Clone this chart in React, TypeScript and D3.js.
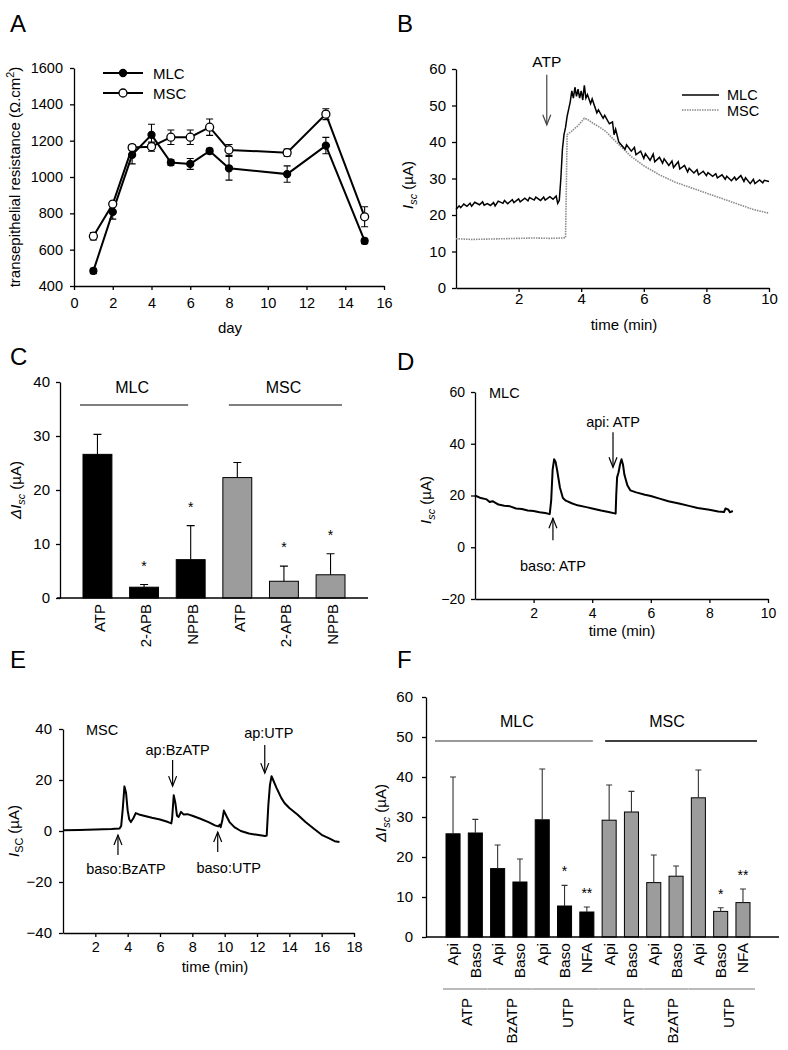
import React, { useEffect, useRef } from 'react';
import * as d3 from 'd3';

const FONT = '"Liberation Sans", Arial, Helvetica, sans-serif';

// ---- A: transepithelial resistance (Ohm.cm2) per day
const terDays = [1, 2, 3, 4, 5, 6, 7, 8, 11, 13, 15];
const terMlc = [483, 808, 1122, 1232, 1080, 1072, 1143, 1048, 1016, 1173, 648];
const terMlcErr = [15, 40, 50, 58, 15, 30, 15, 65, 45, 45, 15];
const terMsc = [674, 851, 1162, 1167, 1219, 1219, 1274, 1149, 1134, 1346, 781];
const terMscErr = [20, 10, 15, 25, 40, 40, 45, 30, 20, 30, 55];
const terTicksY = [400, 600, 800, 1000, 1200, 1400, 1600];
const terTicksX = [0, 2, 4, 6, 8, 10, 12, 14, 16];

// ---- B: Isc traces after ATP, [time min, Isc uA]
const bMlc = [
  [0, 21.5], [0.1, 22.5], [0.15, 22], [0.25, 23], [0.35, 22.4], [0.45, 23.2], [0.5, 22.4], [0.6, 23.5],
  [0.75, 22.8], [0.85, 23.6], [0.9, 22.7], [1.0, 23.1], [1.1, 22.6], [1.2, 23.4], [1.25, 22.5], [1.35, 23.8],
  [1.5, 23.2], [1.55, 24], [1.65, 23.1], [1.8, 24.2], [1.85, 23.4], [2.0, 24.4], [2.05, 23.6], [2.2, 24.6],
  [2.3, 23.9], [2.35, 24.8], [2.5, 24.1], [2.55, 24.9], [2.7, 24], [2.8, 24.9], [2.85, 24.1], [3.0, 25],
  [3.1, 24.3], [3.2, 25.2], [3.25, 23.2], [3.3, 24], [3.35, 30], [3.4, 38], [3.45, 42], [3.5, 44], [3.55, 47],
  [3.6, 49], [3.65, 51], [3.7, 54], [3.75, 52], [3.8, 55], [3.85, 52.5], [3.9, 54.5], [3.95, 52],
  [4.0, 54], [4.05, 51.5], [4.1, 55.5], [4.15, 52], [4.2, 53], [4.3, 50.5], [4.35, 51.8], [4.5, 48],
  [4.55, 48.8], [4.7, 46.5], [4.75, 47.3], [4.9, 45], [5.0, 45.5], [5.05, 42], [5.1, 43.5], [5.2, 40],
  [5.25, 39.5], [5.4, 38], [5.45, 39.2], [5.6, 37.5], [5.7, 38.5], [5.75, 36.5], [5.9, 37.5], [6.0, 35.5],
  [6.05, 36.8], [6.2, 35], [6.3, 36.7], [6.35, 34.6], [6.5, 35.8], [6.6, 34.2], [6.65, 35.4], [6.8, 33.6],
  [6.9, 34.8], [6.95, 33], [7.1, 34.6], [7.15, 32.6], [7.3, 33.6], [7.4, 31.8], [7.45, 32.8], [7.6, 31.5],
  [7.7, 32.4], [7.75, 31], [7.9, 32], [8.0, 30.8], [8.05, 31.6], [8.2, 30.6], [8.3, 31.3], [8.35, 30.2],
  [8.5, 31], [8.6, 29.8], [8.65, 30.6], [8.8, 29.4], [8.9, 30.4], [8.95, 29.6], [9.1, 30.8], [9.2, 29.2],
  [9.25, 30.2], [9.4, 28.6], [9.5, 29.8], [9.55, 28.6], [9.7, 29.6], [9.8, 28.8], [9.85, 29.5], [10.0, 29.2],
];
const bMsc = [
  [0, 13.5], [0.5, 13.3], [1, 13.4], [1.5, 13.5], [2, 13.6], [2.5, 13.7], [3, 13.6], [3.4, 13.7],
  [3.5, 13.8], [3.52, 25], [3.55, 42], [3.7, 43], [3.9, 44.5], [4.1, 46.5], [4.2, 46.2], [4.4, 45],
  [4.6, 44], [4.8, 42.8], [5.0, 41], [5.3, 38.5], [5.6, 36], [6.0, 33.5], [6.5, 31], [7.0, 29],
  [7.5, 27.5], [8.0, 26], [8.5, 24.5], [9.0, 23], [9.5, 21.5], [10, 20.5],
];
const bTicksY = [0, 10, 20, 30, 40, 50, 60];
const bTicksX = [2, 4, 6, 8, 10];

// ---- C: delta Isc with inhibitors
const cLabels = ['ATP', '2-APB', 'NPPB', 'ATP', '2-APB', 'NPPB'];
const cCells = ['MLC', 'MLC', 'MLC', 'MSC', 'MSC', 'MSC'];
const cValues = [26.6, 2.0, 7.1, 22.3, 3.1, 4.3];
const cErrors = [3.7, 0.5, 6.3, 2.8, 2.8, 3.9];
const cSig = ['', '*', '*', '', '*', '*'];
const cTicksY = [0, 10, 20, 30, 40];

// ---- D: MLC trace, baso then api ATP
const dMlc = [
  [0, 20], [0.2, 19], [0.4, 18.5], [0.5, 17.5], [0.6, 17.8], [0.8, 16.5], [1.0, 16], [1.2, 15.8],
  [1.4, 15], [1.6, 14.8], [1.8, 14.2], [2.0, 14], [2.2, 13.5], [2.4, 13.2], [2.55, 12.8], [2.6, 18],
  [2.65, 30], [2.7, 34], [2.75, 33], [2.8, 30], [2.9, 23], [3.0, 19], [3.1, 18], [3.3, 17],
  [3.5, 16.2], [3.8, 15.5], [4.0, 15], [4.3, 14.2], [4.6, 13.5], [4.8, 13], [4.82, 20], [4.85, 27],
  [4.9, 29], [4.95, 32], [5.0, 34], [5.05, 32], [5.1, 28], [5.2, 24], [5.3, 22], [5.5, 21.2],
  [5.8, 20.3], [6.0, 19.8], [6.3, 18.8], [6.6, 17.8], [7.0, 16.8], [7.3, 16], [7.6, 15.2], [8.0, 14.5],
  [8.3, 13.8], [8.5, 13.6], [8.55, 15], [8.65, 14.5], [8.7, 13.5], [8.8, 14],
];
const dArrows = [
  { t: 2.66, tail: 2.7, tip: 11.2, label: 'baso: ATP', dx: 0, labelY: -9 },
  { t: 4.71, tail: 44.4, tip: 30.9, label: 'api: ATP', dx: 0, labelY: 46.5 },
];
const dTicksY = [-20, 0, 20, 40, 60];
const dTicksX = [2, 4, 6, 8, 10];

// ---- E: MSC trace with BzATP / UTP
const eMsc = [
  [0, 0.3], [1, 0.4], [2, 0.6], [3, 0.8], [3.5, 1], [3.6, 2], [3.7, 9], [3.8, 17.5], [3.9, 15],
  [4.0, 8], [4.1, 4.5], [4.2, 3.5], [4.35, 5], [4.5, 7], [4.7, 6.5], [5.0, 6], [5.5, 5.2], [6.0, 4.5],
  [6.5, 3.5], [6.7, 3], [6.75, 5], [6.85, 14], [6.95, 11], [7.05, 6], [7.15, 5.5], [7.3, 7.5],
  [7.45, 6.5], [7.7, 6.6], [8.0, 6], [8.5, 4.8], [9.0, 3.5], [9.4, 2.2], [9.6, 1.8], [9.7, 2.5],
  [9.75, 1.5], [9.85, 4], [9.95, 8], [10.1, 6], [10.3, 3.5], [10.6, 1.5], [11, 0], [11.5, -1],
  [12, -1.5], [12.5, -2], [12.6, -1.8], [12.7, 10], [12.8, 18], [12.9, 21.5], [13.0, 20], [13.2, 17],
  [13.5, 13], [13.7, 11], [14.0, 9], [14.5, 6.5], [15.0, 3.5], [15.5, 1], [16.0, -1.5], [16.5, -3],
  [16.8, -4], [17.1, -4.3],
];
const eArrows = [
  { t: 3.4, tail: -9.4, tip: -1.6, label: 'baso:BzATP', dx: 8, labelY: -17 },
  { t: 6.78, tail: 27.8, tip: 17.6, label: 'ap:BzATP', dx: 5, labelY: 29.8 },
  { t: 9.57, tail: -8.2, tip: -0.4, label: 'baso:UTP', dx: 11, labelY: -16.5 },
  { t: 12.48, tail: 33.7, tip: 22.7, label: 'ap:UTP', dx: 4, labelY: 36.5 },
];
const eTicksY = [-40, -20, 0, 20, 40];
const eTicksX = [2, 4, 6, 8, 10, 12, 14, 16, 18];

// ---- F: delta Isc api / baso agonists
const fLabels = ['Api', 'Baso', 'Api', 'Baso', 'Api', 'Baso', 'NFA', 'Api', 'Baso', 'Api', 'Baso', 'Api', 'Baso', 'NFA'];
const fAgonists = ['ATP', 'ATP', 'BzATP', 'BzATP', 'UTP', 'UTP', 'UTP', 'ATP', 'ATP', 'BzATP', 'BzATP', 'UTP', 'UTP', 'UTP'];
const fCells = ['MLC', 'MLC', 'MLC', 'MLC', 'MLC', 'MLC', 'MLC', 'MSC', 'MSC', 'MSC', 'MSC', 'MSC', 'MSC', 'MSC'];
const fValues = [25.8, 26.0, 17.1, 13.75, 29.3, 7.75, 6.25, 29.2, 31.25, 13.6, 15.2, 34.8, 6.4, 8.6];
const fErrors = [14.2, 3.4, 5.9, 5.75, 12.7, 5.15, 1.25, 8.8, 5.15, 6.9, 2.55, 6.95, 0.9, 3.4];
const fSig = ['', '', '', '', '', '*', '**', '', '', '', '', '', '*', '**'];
const fTicksY = [0, 10, 20, 30, 40, 50, 60];

const isc = [{ t: 'I', italic: true }, { t: 'sc', italic: true, sub: true }, { t: ' (µA)' }];
const dIsc = [{ t: 'ΔI', italic: true }, { t: 'sc', italic: true, sub: true }, { t: ' (µA)' }];
const iSC = [{ t: 'I', italic: true }, { t: 'SC', sub: true }, { t: ' (µA)' }];

function rich(sel, parts) {
  let shift = 0;
  parts.forEach((p) => {
    const ts = sel.append('tspan').text(p.t);
    const target = p.sub ? 4 : p.sup ? -6 : 0;
    if (target !== shift) {
      ts.attr('dy', target - shift);
      shift = target;
    }
    if (p.sub || p.sup) ts.attr('font-size', '0.72em');
    if (p.italic) ts.attr('font-style', 'italic');
  });
}

function label(svg, x, y, text, fs = 15, anchor = 'middle') {
  return svg.append('text').attr('x', x).attr('y', y).attr('font-size', fs)
    .attr('text-anchor', anchor).attr('fill', '#000').text(text);
}

function yTitle(svg, x, y, parts, fs = 15) {
  const t = svg.append('text').attr('transform', `translate(${x},${y}) rotate(-90)`)
    .attr('text-anchor', 'middle').attr('dy', '0.35em').attr('font-size', fs).attr('fill', '#000');
  rich(t, parts);
}

function styleAxis(g, fs) {
  g.attr('font-family', FONT).attr('font-size', fs);
  g.selectAll('text').attr('fill', '#000');
  g.selectAll('line, path').attr('stroke', '#000').attr('stroke-width', 1.3);
}

function yAxisAt(svg, scale, x, ticks, fs, pad) {
  const g = svg.append('g').attr('transform', `translate(${x},0)`)
    .call(d3.axisLeft(scale).tickValues(ticks).tickFormat(d3.format('d')).tickSize(4).tickSizeOuter(0).tickPadding(pad));
  styleAxis(g, fs);
}

function xAxisAt(svg, scale, y, ticks, fs, pad) {
  const g = svg.append('g').attr('transform', `translate(0,${y})`)
    .call(d3.axisBottom(scale).tickValues(ticks).tickFormat(d3.format('d')).tickSize(4).tickSizeOuter(0).tickPadding(pad));
  styleAxis(g, fs);
}

function arrow(svg, x, yTail, yTip, color = '#000') {
  const dir = yTip > yTail ? 1 : -1;
  svg.append('line').attr('x1', x).attr('x2', x).attr('y1', yTail).attr('y2', yTip)
    .attr('stroke', color).attr('stroke-width', 1.2);
  svg.append('path').attr('d', `M${x - 4},${yTip - dir * 10}L${x},${yTip}L${x + 4},${yTip - dir * 10}`)
    .attr('fill', 'none').attr('stroke', color).attr('stroke-width', 1.2);
}

function drawA(svg) {
  const x = d3.scaleLinear().domain([0, 16]).range([74, 384]);
  const y = d3.scaleLinear().domain([400, 1600]).range([286, 68]);
  yAxisAt(svg, y, 74, terTicksY, 14.5, 7);
  xAxisAt(svg, x, 286, terTicksX, 14.5, 8);
  const line = d3.line().x((d) => x(d[0])).y((d) => y(d[1]));
  const series = [
    { v: terMsc, e: terMscErr, open: true },
    { v: terMlc, e: terMlcErr, open: false },
  ];
  series.forEach((s) => {
    const pts = terDays.map((d, i) => [d, s.v[i]]);
    terDays.forEach((d, i) => {
      const cx = x(d);
      const y1 = y(s.v[i] - s.e[i]);
      const y2 = y(s.v[i] + s.e[i]);
      svg.append('path').attr('d', `M${cx},${y1}V${y2}M${cx - 3.5},${y1}h7M${cx - 3.5},${y2}h7`)
        .attr('stroke', '#000').attr('stroke-width', 1.1).attr('fill', 'none');
    });
    svg.append('path').attr('d', line(pts)).attr('fill', 'none').attr('stroke', '#000').attr('stroke-width', 2);
  });
  series.forEach((s) => {
    svg.selectAll(null).data(terDays).enter().append('circle')
      .attr('cx', (d) => x(d)).attr('cy', (d, i) => y(s.v[i]))
      .attr('r', s.open ? 4 : 3.5)
      .attr('fill', s.open ? '#fff' : '#000').attr('stroke', '#000').attr('stroke-width', 1.3);
  });
  // legend
  [{ name: 'MLC', open: false, yy: 73 }, { name: 'MSC', open: true, yy: 93 }].forEach((l) => {
    svg.append('line').attr('x1', 103).attr('x2', 143).attr('y1', l.yy).attr('y2', l.yy)
      .attr('stroke', '#000').attr('stroke-width', 2);
    svg.append('circle').attr('cx', 123).attr('cy', l.yy).attr('r', l.open ? 4 : 3.5)
      .attr('fill', l.open ? '#fff' : '#000').attr('stroke', '#000').attr('stroke-width', 1.3);
    label(svg, 153, l.yy + 5.5, l.name, 15, 'start');
  });
  yTitle(svg, 15, 177, [{ t: 'transepithelial resistance (Ω.cm' }, { t: '2', sup: true }, { t: ')' }]);
  label(svg, 230, 333, 'day');
  label(svg, 10, 32, 'A', 24, 'start');
}

function drawB(svg) {
  const x = d3.scaleLinear().domain([0, 10]).range([456, 769]);
  const y = d3.scaleLinear().domain([0, 60]).range([288, 69]);
  yAxisAt(svg, y, 456, bTicksY, 15, 6);
  xAxisAt(svg, x, 288, bTicksX, 15, 1);
  const line = d3.line().x((d) => x(d[0])).y((d) => y(d[1]));
  svg.append('path').attr('d', line(bMsc)).attr('fill', 'none').attr('stroke', '#8a8a8a')
    .attr('stroke-width', 1.6).attr('stroke-dasharray', '1.5,1');
  svg.append('path').attr('d', line(bMlc)).attr('fill', 'none').attr('stroke', '#000').attr('stroke-width', 1.5);
  arrow(svg, x(2.9), y(58.4), y(44.7), '#444');
  label(svg, x(2.9), 67, 'ATP', 15.5);
  svg.append('line').attr('x1', 682).attr('x2', 719).attr('y1', 95).attr('y2', 95).attr('stroke', '#000').attr('stroke-width', 1.5);
  label(svg, 727, 100, 'MLC', 14.5, 'start');
  svg.append('line').attr('x1', 682).attr('x2', 719).attr('y1', 110).attr('y2', 110).attr('stroke', '#8a8a8a')
    .attr('stroke-width', 1.6).attr('stroke-dasharray', '1.5,1');
  label(svg, 727, 116, 'MSC', 14.5, 'start');
  yTitle(svg, 408, 185, isc);
  label(svg, 624, 330, 'time (min)');
  label(svg, 397, 32, 'B', 24, 'start');
}

function barPanel(svg, opts) {
  const { x, y, labels, cells, values, errors, sig, capW, errColor } = opts;
  const bw = x.bandwidth();
  labels.forEach((_, i) => {
    const bx = x(i);
    const msc = cells[i] === 'MSC';
    svg.append('rect').attr('x', bx).attr('y', y(values[i])).attr('width', bw)
      .attr('height', y(0) - y(values[i])).attr('fill', msc ? '#9c9c9c' : '#000')
      .attr('stroke', '#000').attr('stroke-width', 1);
    const cx = bx + bw / 2;
    const yt = y(values[i] + errors[i]);
    svg.append('path').attr('d', `M${cx},${y(values[i])}V${yt}M${cx - capW / 2},${yt}h${capW}`)
      .attr('stroke', errColor).attr('stroke-width', 1.1).attr('fill', 'none');
    if (sig[i]) label(svg, cx, yt - opts.starGap, sig[i], 14);
  });
}

function drawC(svg) {
  const x = d3.scaleBand().domain(d3.range(cLabels.length)).range([83, 345]).paddingInner(0.38);
  const y = d3.scaleLinear().domain([0, 40]).range([598, 382]);
  const bw = x.bandwidth();
  yAxisAt(svg, y, 60, cTicksY, 15, 6);
  barPanel(svg, { x, y, labels: cLabels, cells: cCells, values: cValues, errors: cErrors, sig: cSig, capW: 8, errColor: '#000', starGap: 14 });
  svg.append('line').attr('x1', 57).attr('x2', 368).attr('y1', 598).attr('y2', 598).attr('stroke', '#000').attr('stroke-width', 1.4);
  cLabels.forEach((t, i) => {
    svg.append('text').attr('transform', `translate(${x(i) + bw / 2 + 2},604) rotate(-90)`)
      .attr('text-anchor', 'end').attr('dy', '0.35em').attr('font-size', 15).text(t);
  });
  // group lines: [left offset, right offset] from first / last bar
  const groups = [{ name: 'MLC', from: 0, to: 2, l: -3, r: -17 }, { name: 'MSC', from: 3, to: 5, l: 6, r: -3 }];
  groups.forEach((g) => {
    const x1 = x(g.from) + g.l;
    const x2 = x(g.to) + bw + g.r;
    svg.append('line').attr('x1', x1).attr('x2', x2).attr('y1', 405).attr('y2', 405).attr('stroke', '#555').attr('stroke-width', 1.5);
    label(svg, (x1 + x2) / 2 - 2, 393, g.name, 16);
  });
  yTitle(svg, 16, 490, dIsc);
  label(svg, 10, 365, 'C', 24, 'start');
}

function drawTrace(svg, opts) {
  const { x, y, data, arrows } = opts;
  const line = d3.line().x((d) => x(d[0])).y((d) => y(d[1]));
  svg.append('path').attr('d', line(data)).attr('fill', 'none').attr('stroke', '#000')
    .attr('stroke-width', 2).attr('stroke-linejoin', 'round');
  arrows.forEach((a) => {
    arrow(svg, x(a.t), y(a.tail), y(a.tip));
    label(svg, x(a.t) + a.dx, y(a.labelY), a.label, 14.5);
  });
}

function drawD(svg) {
  const x = d3.scaleLinear().domain([0, 10]).range([475, 768]);
  const y = d3.scaleLinear().domain([-20, 60]).range([599, 392]);
  yAxisAt(svg, y, 475, dTicksY, 14, 6);
  xAxisAt(svg, x, 599, dTicksX, 14, 5);
  drawTrace(svg, { x, y, data: dMlc, arrows: dArrows });
  label(svg, 489, 398, 'MLC', 14.5, 'start');
  yTitle(svg, 426, 500, isc);
  label(svg, 622, 636, 'time (min)');
  label(svg, 397, 370, 'D', 24, 'start');
}

function drawE(svg) {
  const x = d3.scaleLinear().domain([0, 18]).range([63, 354]);
  const y = d3.scaleLinear().domain([-40, 40]).range([933, 729]);
  yAxisAt(svg, y, 63, eTicksY, 15, 7);
  xAxisAt(svg, x, 933, eTicksX, 14.5, 5);
  drawTrace(svg, { x, y, data: eMsc, arrows: eArrows });
  label(svg, 86, 735, 'MSC', 14.5, 'start');
  yTitle(svg, 14, 831, iSC);
  label(svg, 215, 972, 'time (min)');
  label(svg, 10, 668, 'E', 24, 'start');
}

function drawF(svg) {
  const x = d3.scaleBand().domain(d3.range(fLabels.length)).range([446, 750]).paddingInner(0.37);
  const y = d3.scaleLinear().domain([0, 60]).range([937, 697]);
  const bw = x.bandwidth();
  yAxisAt(svg, y, 426, fTicksY, 15, 9);
  barPanel(svg, { x, y, labels: fLabels, cells: fCells, values: fValues, errors: fErrors, sig: fSig, capW: 6, errColor: '#333', starGap: 9 });
  svg.append('line').attr('x1', 426).attr('x2', 779).attr('y1', 937).attr('y2', 937).attr('stroke', '#000').attr('stroke-width', 1.4);
  fLabels.forEach((t, i) => {
    svg.append('text').attr('transform', `translate(${x(i) + bw / 2},943) rotate(-90)`)
      .attr('text-anchor', 'end').attr('dy', '0.35em').attr('font-size', 15.5).text(t);
  });
  // cell groups
  const cellGroups = [
    { name: 'MLC', from: 0, to: 6, l: -11, r: -1, color: '#777' },
    { name: 'MSC', from: 7, to: 13, l: 3, r: 7, color: '#000' },
  ];
  cellGroups.forEach((g) => {
    const x1 = x(g.from) + g.l;
    const x2 = x(g.to) + bw + g.r;
    svg.append('line').attr('x1', x1).attr('x2', x2).attr('y1', 741).attr('y2', 741).attr('stroke', g.color).attr('stroke-width', 1.5);
    label(svg, g.name === 'MLC' ? (x1 + x2) / 2 + 3 : (x1 + x2) / 2 - 14, 727, g.name, 16);
  });
  // agonist sub-groups
  const subs = [];
  fAgonists.forEach((a, i) => {
    const last = subs[subs.length - 1];
    if (last && last.name === a && fCells[last.from] === fCells[i]) last.to = i;
    else subs.push({ name: a, from: i, to: i });
  });
  subs.forEach((s) => {
    const x1 = x(s.from) - 3;
    const x2 = x(s.to) + bw + 5;
    svg.append('line').attr('x1', x1).attr('x2', x2).attr('y1', 989).attr('y2', 989).attr('stroke', '#777').attr('stroke-width', 1);
    const shift = fCells[s.from] === 'MSC' ? 7 : 2;
    svg.append('text').attr('transform', `translate(${(x1 + x2) / 2 + shift},998) rotate(-90)`)
      .attr('text-anchor', 'end').attr('dy', '0.35em').attr('font-size', 15).text(s.name);
  });
  yTitle(svg, 381, 813, dIsc);
  label(svg, 397, 668, 'F', 24, 'start');
}

export default function App() {
  const svgRef = useRef(null);

  useEffect(() => {
    const svg = d3.select(svgRef.current);
    svg.selectAll('*').remove();
    svg.attr('font-family', FONT);
    drawA(svg);
    drawB(svg);
    drawC(svg);
    drawD(svg);
    drawE(svg);
    drawF(svg);
  }, []);

  return (
    <div style={{ position: 'absolute', left: 0, top: 0 }}>
      <svg ref={svgRef} width={788} height={1050} style={{ display: 'block', background: '#fff' }} />
    </div>
  );
}
